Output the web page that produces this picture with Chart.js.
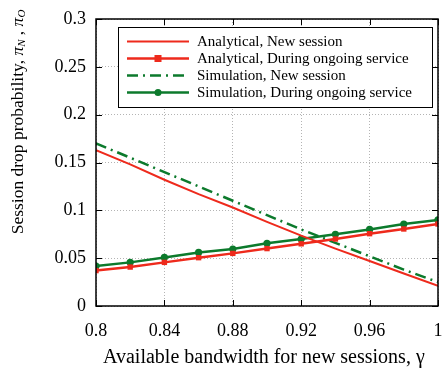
<!DOCTYPE html>
<html>
<head>
<meta charset="utf-8">
<script src="https://cdn.jsdelivr.net/npm/chart.js@4"></script>
<style>
  body { margin: 0; background: #fff; }
  #wrap { width: 443px; height: 368px; }
</style>
</head>
<body>
<div id="wrap"><canvas id="chart" width="443" height="368"></canvas></div>
<script>
// bandwidth for new sessions (gamma)
const gammas = [0.8, 0.82, 0.84, 0.86, 0.88, 0.9, 0.92, 0.94, 0.96, 0.98, 1.0];
const analyticalNew = [0.163, 0.148, 0.132, 0.117, 0.103, 0.088, 0.0735, 0.060, 0.047, 0.034, 0.021];
const analyticalOngoing = [0.037, 0.0407, 0.0456, 0.0505, 0.055, 0.060, 0.065, 0.070, 0.0756, 0.0805, 0.0857];
const simulationNew = [0.170, 0.155, 0.140, 0.125, 0.110, 0.095, 0.080, 0.066, 0.052, 0.038, 0.025];
const simulationOngoing = [0.0418, 0.0456, 0.0508, 0.056, 0.0596, 0.0655, 0.070, 0.075, 0.080, 0.0857, 0.090];
const seriesNames = [
  'Analytical, New session',
  'Analytical, During ongoing service',
  'Simulation, New session',
  'Simulation, During ongoing service'
];

const RED = '#ee2a1c';
const GREEN = '#0c7a2c';
const FONT = '"Liberation Serif", "Times New Roman", serif';

const pts = arr => arr.map((v, i) => ({x: gammas[i], y: v}));
const fmt = v => String(Number(v.toFixed(3)));

// frame with inward ticks on all four sides, legend box and axis titles
const framePlugin = {
  id: 'frame',
  afterDatasetsDraw(chart) {
    const {ctx, chartArea: a, scales} = chart;
    ctx.save();
    ctx.strokeStyle = '#000';
    ctx.lineWidth = 1;
    scales.x.ticks.forEach(t => {
      const px = Math.round(scales.x.getPixelForValue(t.value)) + 0.5;
      ctx.beginPath();
      ctx.moveTo(px, a.bottom); ctx.lineTo(px, a.bottom - 6);
      ctx.moveTo(px, a.top); ctx.lineTo(px, a.top + 6);
      ctx.stroke();
    });
    scales.y.ticks.forEach(t => {
      const py = Math.round(scales.y.getPixelForValue(t.value)) + 0.5;
      ctx.beginPath();
      ctx.moveTo(a.left, py); ctx.lineTo(a.left + 6, py);
      ctx.moveTo(a.right, py); ctx.lineTo(a.right - 6, py);
      ctx.stroke();
    });
    ctx.lineWidth = 1.5;
    ctx.strokeRect(a.left, a.top, a.right - a.left, a.bottom - a.top);
    ctx.restore();
  },
  afterDraw(chart) {
    const {ctx} = chart;
    ctx.save();
    // legend box
    const bx = 118, by = 27, bw = 314, bh = 80;
    ctx.fillStyle = '#fff';
    ctx.fillRect(bx, by, bw, bh);
    ctx.strokeStyle = '#000';
    ctx.lineWidth = 1;
    ctx.strokeRect(bx + 0.5, by + 0.5, bw, bh);
    ctx.font = '15px ' + FONT;
    ctx.textBaseline = 'middle';
    chart.data.datasets.forEach((ds, i) => {
      const y = 41.5 + i * 17;
      ctx.strokeStyle = ds.borderColor;
      ctx.lineWidth = ds.borderWidth;
      ctx.setLineDash(ds.borderDash || []);
      ctx.beginPath();
      ctx.moveTo(127, y); ctx.lineTo(189, y);
      ctx.stroke();
      ctx.setLineDash([]);
      if (ds.pointRadius > 0) {
        ctx.fillStyle = ds.pointBackgroundColor;
        if (ds.pointStyle === 'rect') {
          ctx.fillRect(158 - 3.5, y - 3.5, 7, 7);
        } else {
          ctx.beginPath();
          ctx.arc(158, y, 3.5, 0, Math.PI * 2);
          ctx.fill();
        }
      }
      ctx.fillStyle = '#000';
      ctx.fillText(ds.label, 197, y + 1);
    });
    // x title
    ctx.font = '20px ' + FONT;
    ctx.textAlign = 'left';
    ctx.textBaseline = 'alphabetic';
    ctx.fillText('Available bandwidth for new sessions, \u03b3', 103, 363);
    // y title with subscripts
    ctx.translate(18, 122);
    ctx.rotate(-Math.PI / 2);
    const parts = [
      {t: 'Session drop probability, ', f: '17.5px ' + FONT, dy: 0},
      {t: '\u03c0', f: 'italic 17.5px ' + FONT, dy: 0},
      {t: 'N', f: 'italic 11px ' + FONT, dy: 4},
      {t: ' , ', f: '17.5px ' + FONT, dy: 0},
      {t: '\u03c0', f: 'italic 17.5px ' + FONT, dy: 0},
      {t: 'O', f: 'italic 11px ' + FONT, dy: 4}
    ];
    let total = 0;
    parts.forEach(p => { ctx.font = p.f; p.w = ctx.measureText(p.t).width; total += p.w; });
    let x = -total / 2;
    ctx.textAlign = 'left';
    ctx.textBaseline = 'middle';
    parts.forEach(p => {
      ctx.font = p.f;
      ctx.fillText(p.t, x, p.dy);
      x += p.w;
    });
    ctx.restore();
  }
};

new Chart(document.getElementById('chart'), {
  type: 'line',
  data: {
    datasets: [
      {
        label: seriesNames[0], data: pts(analyticalNew),
        borderColor: RED, borderWidth: 2, pointRadius: 0, tension: 0
      },
      {
        label: seriesNames[1], data: pts(analyticalOngoing),
        borderColor: RED, borderWidth: 2.5, pointRadius: 3.8, pointStyle: 'rect',
        pointBackgroundColor: RED, pointBorderColor: RED, pointBorderWidth: 0
      },
      {
        label: seriesNames[2], data: pts(simulationNew),
        borderColor: GREEN, borderWidth: 2.5, borderDash: [11, 5, 2, 5], pointRadius: 0
      },
      {
        label: seriesNames[3], data: pts(simulationOngoing),
        borderColor: GREEN, borderWidth: 2.5, pointRadius: 3.6, pointStyle: 'circle',
        pointBackgroundColor: GREEN, pointBorderColor: GREEN, pointBorderWidth: 0
      }
    ]
  },
  options: {
    responsive: false,
    animation: false,
    layout: {padding: {top: 19, right: 5, left: 0, bottom: 0}},
    plugins: {legend: {display: false}, tooltip: {enabled: false}},
    scales: {
      x: {
        type: 'linear', min: 0.8, max: 1,
        afterFit: s => { s.height = 62; s.paddingLeft = 0; s.paddingRight = 0; },
        ticks: {stepSize: 0.04, padding: 14, color: '#000', font: {family: FONT, size: 18},
          callback: v => fmt(v)},
        grid: {color: '#b4b4b4', drawTicks: false, lineWidth: 1},
        border: {display: false, dash: [1, 2]}
      },
      y: {
        min: 0, max: 0.3,
        afterFit: s => { s.width = 96; s.paddingTop = 0; s.paddingBottom = 0; },
        ticks: {stepSize: 0.05, padding: 10, color: '#000', font: {family: FONT, size: 18},
          callback: v => fmt(v)},
        grid: {color: '#b4b4b4', drawTicks: false, lineWidth: 1},
        border: {display: false, dash: [1, 2]}
      }
    }
  },
  plugins: [framePlugin]
});
</script>
</body>
</html>
